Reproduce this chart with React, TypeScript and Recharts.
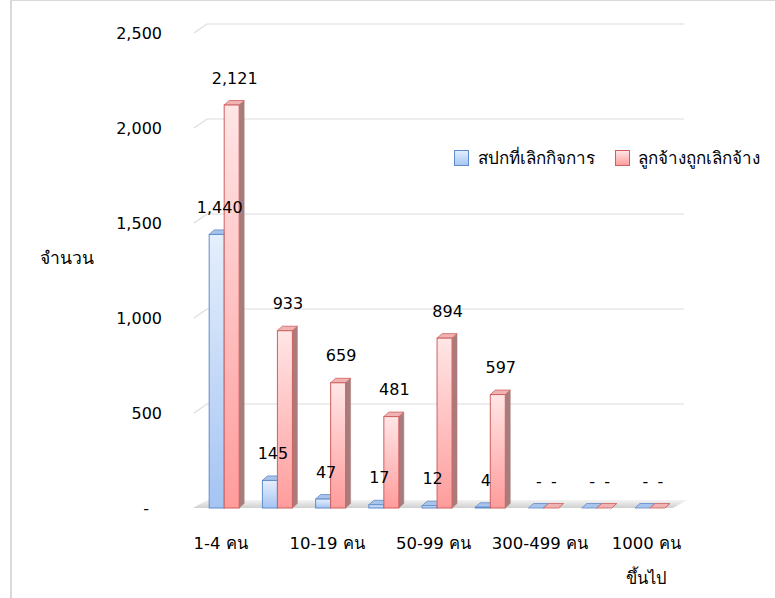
import React from "react";
import { BarChart, Bar, XAxis, YAxis, CartesianGrid, LabelList, Text } from "recharts";

// ขนาดสถานประกอบการ (จำนวนลูกจ้าง)
const categories = [
  "1-4 คน",
  "5-9 คน",
  "10-19 คน",
  "20-49 คน",
  "50-99 คน",
  "100-299 คน",
  "300-499 คน",
  "500-999 คน",
  "1000 คน ขึ้นไป",
];
const closedFirms = [1440, 145, 47, 17, 12, 4, 0, 0, 0];
const laidOff = [2121, 933, 659, 481, 894, 597, 0, 0, 0];
const yTicks = [0, 500, 1000, 1500, 2000, 2500];
const seriesNames = ["สปกที่เลิกกิจการ", "ลูกจ้างถูกเลิกจ้าง"];

const data = categories.map((name, i) => ({
  name,
  closed: closedFirms[i],
  laid: laidOff[i],
}));

const FONT = "Tahoma, 'DejaVu Sans', 'Noto Sans', sans-serif";
const DX = 5; // ความลึกแบบ 3 มิติ
const DY = 4.5;

const makeBar3D = (grad: string, stroke: string, top: string, side: string) => (props: any) => {
  const { x, y, width, height } = props;
  if (x == null || y == null) return <g />;
  const h = Math.max(0, height);
  return (
    <g>
      <polygon
        points={`${x + width},${y} ${x + width + DX},${y - DY} ${x + width + DX},${y + h - DY} ${x + width},${y + h}`}
        fill={side}
        stroke={side}
        strokeWidth={0.5}
      />
      <polygon
        points={`${x},${y} ${x + DX},${y - DY} ${x + width + DX},${y - DY} ${x + width},${y}`}
        fill={top}
        stroke={stroke}
        strokeWidth={0.8}
      />
      {h > 0 && (
        <rect x={x} y={y} width={width} height={h} fill={`url(#${grad})`} stroke={stroke} strokeWidth={1} />
      )}
    </g>
  );
};

const BlueBar = makeBar3D("gBlue", "#5f8ccc", "#a9c4ea", "#7d9bc6");
const RedBar = makeBar3D("gRed", "#cf5f5f", "#f0b3b3", "#a97c7c");

const valueLabel = (props: any) => {
  const { x, y, width, value } = props;
  const txt = value === 0 ? "-" : Number(value).toLocaleString("en-US");
  return (
    <text
      x={x + width / 2 + 3}
      y={y - 27}
      textAnchor="middle"
      dominantBaseline="central"
      fontSize={16}
      fontFamily={FONT}
      fill="#000"
    >
      {txt}
    </text>
  );
};

const gridLine = (props: any) => {
  const { x1, x2, y1 } = props;
  if (Math.abs(y1 - 508) < 2) {
    return (
      <polygon
        key={props.key ?? `g-${y1}`}
        points={`${x1 - 5},${y1} ${x1 + 9},${y1 - 8} ${x2 + 10},${y1 - 8} ${x2 - 4},${y1}`}
        fill="url(#gFloor)"
      />
    );
  }
  return (
    <path
      key={props.key ?? `g-${y1}`}
      d={`M${x1 - 4},${y1} L${x1 + 9},${y1 - 9} L${x2 + 7},${y1 - 9}`}
      fill="none"
      stroke="#dcdcdc"
      strokeWidth={1.2}
    />
  );
};

const YTick = (props: any) => {
  const { x, y, payload } = props;
  const v = payload.value;
  return (
    <text
      x={v === 0 ? x - 13 : x}
      y={y}
      textAnchor="end"
      dominantBaseline="central"
      fontSize={16}
      fontFamily={FONT}
      fill="#000"
    >
      {v === 0 ? "-" : v.toLocaleString("en-US")}
    </text>
  );
};

const XTick = (props: any) => {
  const { x, y, payload } = props;
  return (
    <Text
      x={x - 4}
      y={y + 29}
      width={100}
      textAnchor="middle"
      verticalAnchor="start"
      lineHeight={35}
      fontSize={16.5}
      fontFamily={FONT}
      fill="#000"
    >
      {payload.value}
    </Text>
  );
};

const LegendBox = () => (
  <div
    style={{
      position: "absolute",
      left: 454,
      top: 144,
      display: "flex",
      alignItems: "center",
      fontFamily: FONT,
      fontSize: 17,
      color: "#000",
      whiteSpace: "nowrap",
    }}
  >
    <span
      style={{
        width: 13,
        height: 14,
        border: "1px solid #5f8ccc",
        background: "linear-gradient(#e3eefc, #a7c6f4)",
        marginRight: 9,
      }}
    />
    <span style={{ marginRight: 20 }}>{seriesNames[0]}</span>
    <span
      style={{
        width: 13,
        height: 14,
        border: "1px solid #cf5f5f",
        background: "linear-gradient(#ffe4e4, #ff9e9e)",
        marginRight: 8,
      }}
    />
    <span>{seriesNames[1]}</span>
  </div>
);

export default function App() {
  return (
    <div style={{ position: "absolute", left: 0, top: 0, width: 775, height: 598, background: "#fff" }}>
      <div
        style={{
          position: "absolute",
          left: 10,
          top: 0,
          width: 765,
          height: 598,
          borderTop: "1px solid #d9d9d9",
          borderLeft: "2px solid #d9d9d9",
          boxSizing: "border-box",
        }}
      />
      <BarChart
        width={775}
        height={598}
        data={data}
        margin={{ top: 33, right: 98, bottom: 60, left: 10 }}
        barCategoryGap="21%"
        barGap={0}
        style={{ position: "absolute", left: 0, top: 0 }}
      >
        <defs>
          <linearGradient id="gBlue" x1="0" y1="0" x2="0" y2="1">
            <stop offset="0%" stopColor="#e5effc" />
            <stop offset="100%" stopColor="#a5c4f3" />
          </linearGradient>
          <linearGradient id="gRed" x1="0" y1="0" x2="0" y2="1">
            <stop offset="0%" stopColor="#ffe6e6" />
            <stop offset="100%" stopColor="#ff9c9c" />
          </linearGradient>
          <linearGradient id="gFloor" x1="0" y1="0" x2="0" y2="1">
            <stop offset="0%" stopColor="#f4f4f4" />
            <stop offset="100%" stopColor="#cfcfcf" />
          </linearGradient>
        </defs>
        <CartesianGrid vertical={false} horizontal={gridLine} />
        <XAxis
          dataKey="name"
          interval={1}
          axisLine={false}
          tickLine={false}
          tickSize={0}
          tickMargin={0}
          tick={<XTick />}
        />
        <YAxis
          domain={[0, 2500]}
          ticks={yTicks}
          width={188}
          axisLine={false}
          tickLine={false}
          tickSize={0}
          tickMargin={36}
          tick={<YTick />}
          label={{
            content: (p: any) => (
              <text
                x={p.viewBox.x + 30}
                y={258}
                dominantBaseline="central"
                fontSize={17.5}
                fontFamily={FONT}
                fill="#000"
              >
                จำนวน
              </text>
            ),
          }}
        />
        <Bar dataKey="closed" name={seriesNames[0]} shape={BlueBar} isAnimationActive={false}>
          <LabelList dataKey="closed" content={valueLabel} />
        </Bar>
        <Bar dataKey="laid" name={seriesNames[1]} shape={RedBar} isAnimationActive={false}>
          <LabelList dataKey="laid" content={valueLabel} />
        </Bar>
      </BarChart>
      <LegendBox />
    </div>
  );
}
